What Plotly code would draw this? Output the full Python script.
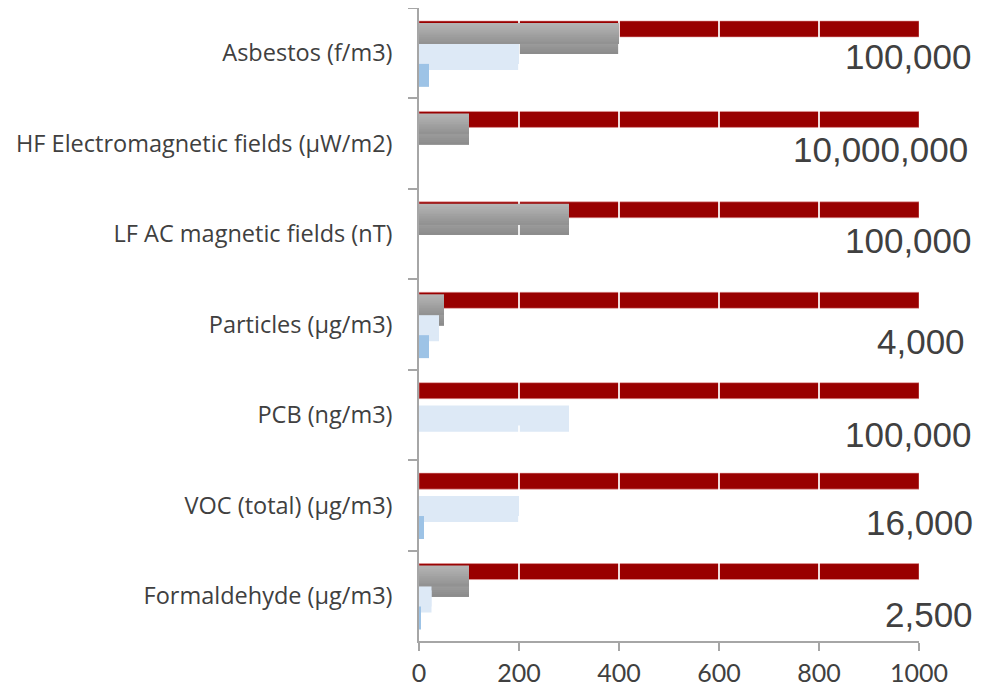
import plotly.graph_objects as go

categories = [
    "Asbestos (f/m3)",
    "HF Electromagnetic fields (µW/m2)",
    "LF AC magnetic fields (nT)",
    "Particles (µg/m3)",
    "PCB (ng/m3)",
    "VOC (total) (µg/m3)",
    "Formaldehyde (µg/m3)",
]
limit_display = [1000, 1000, 1000, 1000, 1000, 1000, 1000]
limit_labels = ["100,000", "10,000,000", "100,000", "4,000", "100,000", "16,000", "2,500"]
gray_values = [400, 100, 300, 50, 0, 0, 100]
lightblue_values = [200, 0, 0, 40, 300, 200, 25]
blue_values = [20, 0, 0, 20, 0, 10, 3]
x_ticks = [0, 200, 400, 600, 800, 1000]

# style only
label_yshift = [-3, -6, -6, -17, -20, -17, -19]
label_xpos = [1.110, 1.102, 1.110, 1.096, 1.110, 1.112, 1.112]

RED = "#990000"
LIGHTBLUE = "#dde9f6"
BLUE = "#9dc3e6"
AXIS = "#a6a6a6"
TXT = "#404040"

fig = go.Figure()

def hbar(vals, color, offset, width, xa="x", ya="y", line=None):
    return go.Bar(
        y=categories, x=vals, orientation="h", offset=offset, width=width,
        marker=dict(color=color, line=line or dict(width=0)),
        xaxis=xa, yaxis=ya, showlegend=False, hoverinfo="skip",
    )

def gradient_bar(vals, top_off, total_w, c0, c1, n, xa, ya):
    traces = []
    step = total_w / n
    for i in range(n):
        t = i / (n - 1)
        r = int(round(c0 + (c1 - c0) * t))
        col = f"rgb({r},{r},{r})"
        # later (darker) strips are drawn over the lower part of the previous one
        traces.append(hbar(vals, col, top_off + i * step, total_w - i * step, xa, ya))
    return traces

# ---- layer 1: below the gridlines
fig.add_trace(hbar(limit_display, RED, -0.3565, 0.177,
                   line=dict(width=0.8, color="rgba(230,160,160,0.7)")))
for tr in gradient_bar(gray_values, -0.235, 0.243, 172, 140, 10, "x", "y"):
    fig.add_trace(tr)
fig.add_trace(hbar(lightblue_values, LIGHTBLUE, -0.06, 0.245))

# ---- layer 2: gridlines only
fig.add_trace(go.Scatter(x=[], y=[], xaxis="x2", yaxis="y2", showlegend=False, hoverinfo="skip"))

# ---- layer 3: above the gridlines
for tr in gradient_bar(gray_values, -0.334, 0.231, 180, 146, 12, "x3", "y3"):
    fig.add_trace(tr)
fig.add_trace(hbar(lightblue_values, LIGHTBLUE, -0.103, 0.221, "x3", "y3"))
fig.add_trace(hbar(blue_values, BLUE, 0.118, 0.254, "x3", "y3"))

for lbl, ys, xp, cat in zip(limit_labels, label_yshift, label_xpos, categories):
    fig.add_annotation(
        x=xp, xref="paper", y=cat, yref="y", text=lbl, showarrow=False,
        xanchor="right", yanchor="middle", yshift=ys,
        font=dict(family="Liberation Sans, Arial", size=35, color=TXT),
    )

yrange = [len(categories) - 0.5, -0.5]
fig.update_layout(
    width=973, height=679,
    margin=dict(l=411, r=62, t=0, b=46, autoexpand=False),
    paper_bgcolor="white", plot_bgcolor="rgba(0,0,0,0)",
    barmode="overlay",
    font=dict(family="Open Sans", color=TXT),
    xaxis=dict(
        range=[0, 1000], tickvals=x_ticks, showgrid=False, zeroline=False,
        showline=True, linecolor=AXIS, linewidth=1.5,
        ticks="outside", ticklen=8, tickcolor=AXIS, tickwidth=1.5,
        tickfont=dict(family="Lato", size=25, color=TXT), ticklabelstandoff=1,
        anchor="y", fixedrange=True, automargin=False,
    ),
    yaxis=dict(
        type="category", categoryorder="array", categoryarray=categories,
        range=yrange, showgrid=False, zeroline=False,
        showline=True, linecolor=AXIS, linewidth=1.5,
        ticks="outside", ticklen=9, tickcolor=AXIS, tickwidth=1.5,
        tickson="boundaries",
        tickfont=dict(family="Open Sans", size=23.5, color=TXT), ticklabelstandoff=20,
        anchor="x", fixedrange=True, automargin=False,
    ),
    xaxis2=dict(
        range=[0, 1000], tickmode="array", tickvals=[200, 400, 600, 800, 1000],
        showgrid=True, gridcolor="rgba(255,255,255,0.85)", gridwidth=1.5,
        zeroline=False, showline=False, showticklabels=False, ticks="",
        anchor="y2", domain=[0, 1], fixedrange=True,
    ),
    yaxis2=dict(range=[0, 1], showgrid=False, zeroline=False, showline=False,
                showticklabels=False, ticks="", anchor="x2", domain=[0, 1], fixedrange=True),
    xaxis3=dict(range=[0, 1000], showgrid=False, zeroline=False, showline=False,
                showticklabels=False, ticks="", anchor="y3", domain=[0, 1], fixedrange=True),
    yaxis3=dict(type="category", categoryorder="array", categoryarray=categories,
                range=yrange, showgrid=False, zeroline=False, showline=False,
                showticklabels=False, ticks="", anchor="x3", domain=[0, 1], fixedrange=True),
)

fig.write_html("out.html")
